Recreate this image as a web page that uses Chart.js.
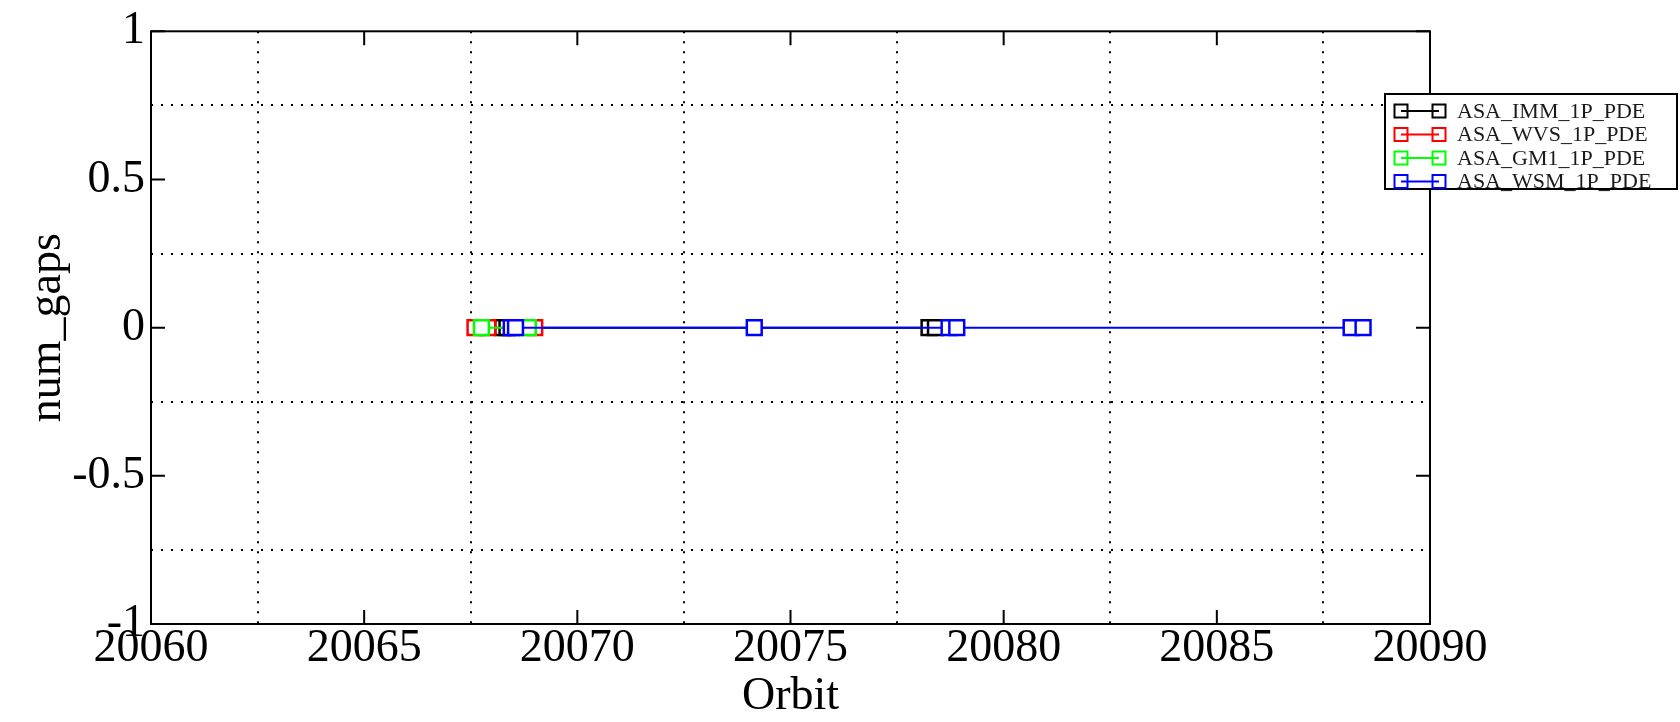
<!DOCTYPE html>
<html>
<head>
<meta charset="utf-8">
<title>num_gaps vs Orbit</title>
<script src="https://cdn.jsdelivr.net/npm/chart.js@4/dist/chart.umd.min.js"></script>
<style>
  html, body { margin: 0; padding: 0; background: #ffffff; }
  canvas { display: block; }
</style>
</head>
<body>
<canvas id="gapsChart" width="1680" height="722"></canvas>
<script>
// Product series
const seriesNames  = ['ASA_IMM_1P_PDE', 'ASA_WVS_1P_PDE', 'ASA_GM1_1P_PDE', 'ASA_WSM_1P_PDE'];
const seriesColors = ['#000000', '#ff0000', '#00ff00', '#0000ff'];

// Orbit numbers and gap counts per product
const immOrbits = [20068.25, 20068.35, 20078.25, 20078.4];
const immGaps   = [0, 0, 0, 0];
const wvsOrbits = [20067.6, 20067.9, 20069.0];
const wvsGaps   = [0, 0, 0];
const gm1Orbits = [20067.75, 20068.85];
const gm1Gaps   = [0, 0];
const wsmOrbits = [20068.45, 20068.55, 20074.15, 20078.72, 20078.9, 20088.15, 20088.43];
const wsmGaps   = [0, 0, 0, 0, 0, 0, 0];

// Axis ticks (labelled majors, unlabelled minors carry the dotted grid)
const xTickValues = [20060, 20062.5, 20065, 20067.5, 20070, 20072.5, 20075, 20077.5, 20080, 20082.5, 20085, 20087.5, 20090];
const xTickLabels = ['20060', '', '20065', '', '20070', '', '20075', '', '20080', '', '20085', '', '20090'];
const yTickValues = [-1, -0.75, -0.5, -0.25, 0, 0.25, 0.5, 0.75, 1];
const yTickLabels = ['-1', '', '-0.5', '', '0', '', '0.5', '', '1'];

const SERIF = "'Liberation Serif', 'Times New Roman', serif";

function toPoints(xs, ys) {
  return xs.map((x, i) => ({ x: x, y: ys[i] }));
}

function makeSet(idx, xs, ys, order) {
  return {
    label: seriesNames[idx],
    data: toPoints(xs, ys),
    showLine: true,
    borderColor: seriesColors[idx],
    borderWidth: 2,
    pointStyle: 'rect',
    pointRadius: 10.5,
    pointHoverRadius: 10.5,
    pointBorderWidth: 2.5,
    pointBorderColor: seriesColors[idx],
    pointBackgroundColor: '#ffffff',
    order: order
  };
}

function labelFor(values, labels, v) {
  const i = values.findIndex(t => Math.abs(t - v) < 1e-6);
  return i >= 0 ? labels[i] : '';
}

function isLabelled(values, labels, v) {
  return labelFor(values, labels, v) !== '';
}

// Frame around the plot with inward major tick marks
const framePlugin = {
  id: 'frameTicks',
  afterDatasetsDraw(chart) {
    const { ctx, chartArea: a, scales } = chart;
    const tickLen = 14;
    ctx.save();
    ctx.strokeStyle = '#000';
    ctx.lineWidth = 2;
    ctx.beginPath();
    xTickValues.forEach((v, i) => {
      if (!xTickLabels[i]) return;
      const px = scales.x.getPixelForValue(v);
      ctx.moveTo(px, a.bottom); ctx.lineTo(px, a.bottom - tickLen);
      ctx.moveTo(px, a.top); ctx.lineTo(px, a.top + tickLen);
    });
    yTickValues.forEach((v, i) => {
      if (!yTickLabels[i]) return;
      const py = scales.y.getPixelForValue(v);
      ctx.moveTo(a.left, py); ctx.lineTo(a.left + tickLen, py);
      ctx.moveTo(a.right, py); ctx.lineTo(a.right - tickLen, py);
    });
    ctx.stroke();
    ctx.strokeRect(a.left, a.top, a.right - a.left, a.bottom - a.top);
    ctx.restore();
  }
};

// Boxed legend: symbol, line, symbol, then the product name
const legendPlugin = {
  id: 'boxLegend',
  afterDraw(chart) {
    const { ctx } = chart;
    const box = { left: 1385, top: 94, width: 292, height: 95, first: 17, rowH: 23.5 };
    const sets = chart.data.datasets;
    ctx.save();
    ctx.fillStyle = '#ffffff';
    ctx.fillRect(box.left, box.top, box.width, box.height);
    ctx.strokeStyle = '#000';
    ctx.lineWidth = 2;
    ctx.strokeRect(box.left, box.top, box.width, box.height);
    ctx.font = '22px ' + SERIF;
    ctx.textBaseline = 'middle';
    ctx.textAlign = 'left';
    sets.forEach((ds, i) => {
      const y = box.top + box.first + i * box.rowH;
      const x1 = box.left + 16, x2 = box.left + 54, s = 13;
      ctx.strokeStyle = ds.borderColor;
      ctx.lineWidth = 2;
      ctx.beginPath();
      ctx.moveTo(x1, y); ctx.lineTo(x2, y);
      ctx.stroke();
      ctx.strokeRect(x1 - s / 2, y - s / 2, s, s);
      ctx.strokeRect(x2 - s / 2, y - s / 2, s, s);
      ctx.fillStyle = '#1a1a1a';
      ctx.fillText(ds.label, box.left + 72, y + 1);
    });
    ctx.restore();
  }
};

const gridColor = (values, labels) => (c) =>
  (c.tick && isLabelled(values, labels, c.tick.value)) ? 'rgba(0,0,0,0)' : '#000000';

new Chart(document.getElementById('gapsChart'), {
  type: 'scatter',
  data: {
    datasets: [
      makeSet(0, immOrbits, immGaps, 4),
      makeSet(1, wvsOrbits, wvsGaps, 3),
      makeSet(2, gm1Orbits, gm1Gaps, 2),
      makeSet(3, wsmOrbits, wsmGaps, 1)
    ]
  },
  options: {
    responsive: false,
    animation: false,
    devicePixelRatio: 1,
    layout: { padding: { top: 27, right: 250, left: 0, bottom: 0 } },
    plugins: { legend: { display: false }, tooltip: { enabled: false } },
    scales: {
      x: {
        type: 'linear',
        min: 20060,
        max: 20090,
        afterBuildTicks: (s) => { s.ticks = xTickValues.map(v => ({ value: v })); },
        afterFit: (s) => { s.height = 98; },
        ticks: {
          autoSkip: false,
          maxRotation: 0,
          padding: 0,
          color: '#000',
          font: { family: SERIF, size: 46, lineHeight: 1.1 },
          callback: (v) => labelFor(xTickValues, xTickLabels, v)
        },
        grid: {
          drawTicks: false,
          lineWidth: 2,
          color: gridColor(xTickValues, xTickLabels),
          borderDash: [2, 8]
        },
        border: { display: false, dash: [2, 8] },
        title: {
          display: true,
          text: 'Orbit',
          color: '#000',
          font: { family: SERIF, size: 46, lineHeight: 1.1 },
          padding: { top: 0, bottom: 0 }
        }
      },
      y: {
        type: 'linear',
        min: -1,
        max: 1,
        afterBuildTicks: (s) => { s.ticks = yTickValues.map(v => ({ value: v })); },
        afterFit: (s) => { s.width = 151; },
        ticks: {
          autoSkip: false,
          padding: 6,
          color: '#000',
          font: { family: SERIF, size: 46, lineHeight: 1.1 },
          callback: (v) => labelFor(yTickValues, yTickLabels, v)
        },
        grid: {
          drawTicks: false,
          lineWidth: 2,
          color: gridColor(yTickValues, yTickLabels),
          borderDash: [2, 8]
        },
        border: { display: false, dash: [2, 8] },
        title: {
          display: true,
          text: 'num_gaps',
          color: '#000',
          font: { family: SERIF, size: 46, lineHeight: 1.1 },
          padding: { top: 23, bottom: 0 }
        }
      }
    }
  },
  plugins: [framePlugin, legendPlugin]
});
</script>
</body>
</html>
